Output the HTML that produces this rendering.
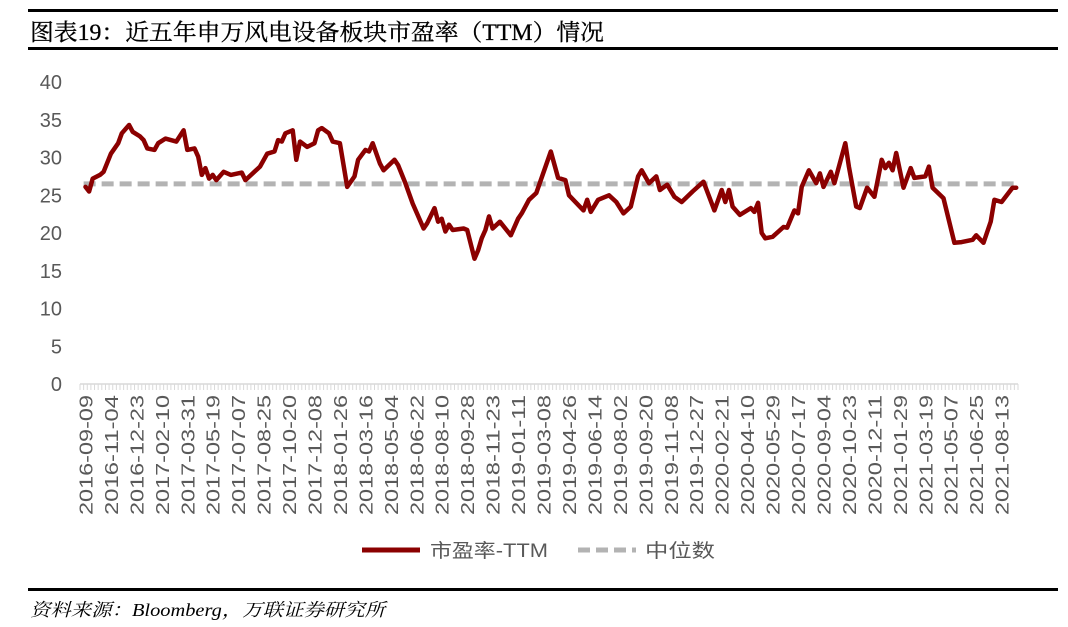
<!DOCTYPE html>
<html><head><meta charset="utf-8">
<style>
body{margin:0;background:#fff;}
svg{display:block;}
</style></head>
<body>
<svg id="chart" width="1068" height="627" xmlns="http://www.w3.org/2000/svg">
<rect x="28" y="9" width="1030" height="3" fill="#000"/>
<text x="30" y="40" font-family="'Liberation Serif','Noto Serif CJK SC',serif" font-size="23" textLength="574" lengthAdjust="spacingAndGlyphs" fill="#000" stroke="#000" stroke-width="0.3">图表19：近五年申万风电设备板块市盈率（TTM）情况</text>
<rect x="28" y="47" width="1030" height="3" fill="#000"/>
<g id="yaxis"></g>
<g id="xaxis"></g>
<g id="series"></g>
<g>
  <line x1="362" y1="550" x2="420" y2="550" stroke="#8b0000" stroke-width="5"/>
  <text x="430" y="557" font-family="'Liberation Sans','Noto Sans CJK SC',sans-serif" font-size="19" textLength="118" lengthAdjust="spacingAndGlyphs" fill="#595959">市盈率-TTM</text>
  <line x1="578" y1="550" x2="636" y2="550" stroke="#b3b3b3" stroke-width="5" stroke-dasharray="12,6"/>
  <text x="645" y="557" font-family="'Liberation Sans','Noto Sans CJK SC',sans-serif" font-size="19" textLength="70" lengthAdjust="spacingAndGlyphs" fill="#595959">中位数</text>
</g>
<rect x="28" y="588" width="1030" height="3" fill="#000"/>
<text x="30" y="616" font-family="'Liberation Serif','Noto Serif CJK SC',serif" font-style="italic" font-size="18" textLength="355" lengthAdjust="spacingAndGlyphs" fill="#000">资料来源：Bloomberg，万联证券研究所</text>
</svg>
<script>
const tickLabels=["2016-09-09","2016-11-04","2016-12-23","2017-02-10","2017-03-31","2017-05-19","2017-07-07","2017-08-25","2017-10-20","2017-12-08","2018-01-26","2018-03-16","2018-05-04","2018-06-22","2018-08-10","2018-09-28","2018-11-23","2019-01-11","2019-03-08","2019-04-26","2019-06-14","2019-08-02","2019-09-20","2019-11-08","2019-12-27","2020-02-21","2020-04-10","2020-05-29","2020-07-17","2020-09-04","2020-10-23","2020-12-11","2021-01-29","2021-03-19","2021-05-07","2021-06-25","2021-08-13"];
const yTicks=[0,5,10,15,20,25,30,35,40];
const weekIdx=[1,2,3,5,6,8,10,11,13,14,16,17,18,20,21,23,26,28,29,31,32,33,34,35,36,37,39,41,44,45,47,49,51,53,54,55,56,58,59,60,62,64,65,66,68,69,71,73,75,76,78,79,80,82,83,86,87,89,91,94,95,97,98,99,100,101,102,105,106,108,109,110,111,112,113,115,118,120,121,123,125,129,131,133,134,138,139,140,142,145,147,149,151,153,154,156,158,159,161,163,165,168,171,172,174,176,177,178,179,181,184,185,186,187,188,190,193,194,196,197,198,200,202,203,204,206,207,210,211,213,214,216,218,220,221,222,223,224,226,228,229,232,233,234,237,240,242,245,246,248,250,251,253,256,257];
const peValues=[26.1,25.5,27.2,27.7,28.1,30.5,31.9,33.2,34.3,33.4,32.8,32.3,31.2,31,31.9,32.5,32.1,33.6,31,31.2,30.1,27.7,28.6,27.2,27.7,27,28.1,27.7,28,27,27.9,28.8,30.5,30.8,32.3,32.1,33.2,33.6,29.7,32.1,31.4,31.9,33.6,33.9,33.2,32.1,31.9,26.1,27.5,29.7,31,30.8,31.9,29.2,28.3,29.7,29,26.6,23.9,20.6,21.3,23.3,21.5,21.9,20.2,21.1,20.4,20.6,20.4,16.6,17.7,19.3,20.4,22.2,20.6,21.5,19.7,21.9,22.6,24.4,25.3,30.8,27.3,27,25,23,24.4,22.8,24.4,25,24.1,22.6,23.5,27.5,28.3,26.6,27.5,25.7,26.4,24.8,24.1,25.5,26.8,25.5,23,25.7,24.1,25.7,23.5,22.4,23.3,22.8,24,20,19.3,19.5,20.8,20.7,23,22.6,26.1,28.3,26.6,27.9,26.1,28.1,26.6,31.9,28.8,23.5,23.3,26,24.8,29.7,28.6,29.3,28.3,30.6,26,28.6,27.3,27.5,28.8,26,24.6,18.7,18.8,19.1,19.7,18.7,21.5,24.4,24.1,26,26];
const medianValue=26.5;
const N=258, labelStep=7, labelStart=1;

const NS="http://www.w3.org/2000/svg";
const L=80,R=1018,Y0=384,Y40=82;
const xs=i=>L+(i+0.5)*(R-L)/N;
const ys=v=>Y0-(v/40)*(Y0-Y40);
function mk(tag,attrs,parent){const e=document.createElementNS(NS,tag);for(const k in attrs)e.setAttribute(k,attrs[k]);parent.appendChild(e);return e;}
const yg=document.getElementById('yaxis'),xg=document.getElementById('xaxis'),sg=document.getElementById('series');
yTicks.forEach(t=>{
  const e=mk('text',{x:62,y:ys(t)+7,'text-anchor':'end','font-family':"'Liberation Sans',sans-serif",'font-size':20,fill:'#595959'},yg);
  
  
  e.textContent=t;
});
const ax=mk('line',{x1:L,y1:Y0,x2:R,y2:Y0,stroke:'#d9d9d9','stroke-width':1.5},xg);


for(let i=0;i<=N;i++){
  const x=L+i*(R-L)/N;
  const t=mk('line',{x1:x,y1:Y0,x2:x,y2:Y0+6,stroke:'#d9d9d9','stroke-width':1},xg);
  
  
}
tickLabels.forEach((lab,k)=>{
  const x=xs(labelStart+k*labelStep)+7;
  const e=mk('text',{x:0,y:0,transform:`translate(${x},395) rotate(-90)`,'text-anchor':'end','font-family':"'Liberation Sans',sans-serif",'font-size':18,textLength:120,lengthAdjust:'spacingAndGlyphs',fill:'#595959'},xg);
  
  
  e.textContent=lab;
});
const med=mk('line',{x1:xs(labelStart-0.5),y1:ys(medianValue),x2:xs(weekIdx[weekIdx.length-1]),y2:ys(medianValue),stroke:'#b3b3b3','stroke-width':5,'stroke-dasharray':'12,6'},sg);


const d=weekIdx.map((w,i)=>(i?'L':'M')+xs(w).toFixed(1)+','+ys(peValues[i]).toFixed(1)).join(' ');
const p=mk('path',{d:d,fill:'none',stroke:'#8b0000','stroke-width':4.5,'stroke-linejoin':'round','stroke-linecap':'round'},sg);


</script>
</body></html>
